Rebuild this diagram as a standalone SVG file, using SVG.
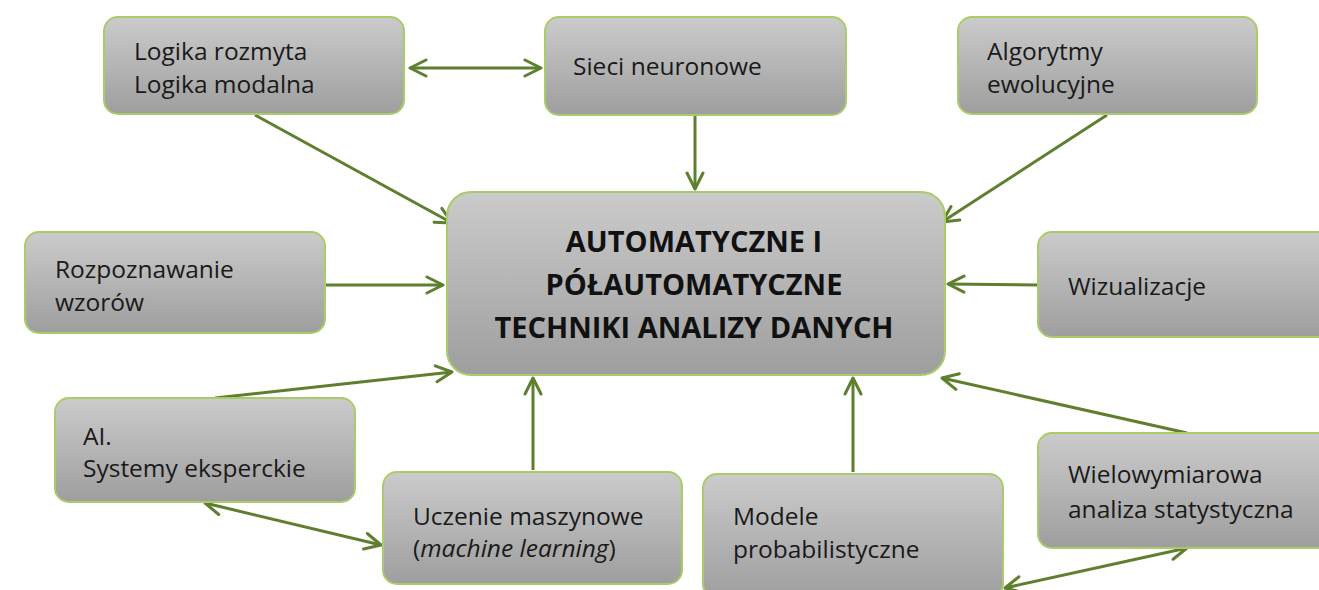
<svg xmlns="http://www.w3.org/2000/svg" width="1319" height="590" viewBox="0 0 1319 590">
<defs>
<linearGradient id="g" x1="0" y1="0" x2="0" y2="1">
<stop offset="0" stop-color="#cbcbcb"/>
<stop offset="1" stop-color="#9e9e9e"/>
</linearGradient>
<marker id="ah" viewBox="0 0 20 20" refX="18" refY="10" markerWidth="20" markerHeight="20" markerUnits="userSpaceOnUse" orient="auto-start-reverse">
<path d="M2,2 L18,10 L2,18" fill="none" stroke="#5e7f2f" stroke-width="3" stroke-linecap="round" stroke-linejoin="round"/>
</marker>
<style>
.box{fill:url(#g);stroke:#a9cc6a;stroke-width:2}
.t{font-family:"Open Sans","Liberation Sans",sans-serif;font-size:24.5px;fill:#1a1a1a}
.c{font-family:"Open Sans","Liberation Sans",sans-serif;font-size:29px;font-weight:bold;fill:#111;text-anchor:middle}
.a{fill:none;stroke:#5e7f2f;stroke-width:3}
</style>
</defs>
<rect width="1319" height="590" fill="#fff"/>
<g id="connectors">
<line class="a" x1="410" y1="68" x2="541" y2="68" marker-start="url(#ah)" marker-end="url(#ah)"/>
<line class="a" x1="255" y1="115" x2="452" y2="223" marker-end="url(#ah)"/>
<line class="a" x1="695" y1="116" x2="695" y2="189" marker-end="url(#ah)"/>
<line class="a" x1="1107" y1="115" x2="942" y2="222" marker-end="url(#ah)"/>
<line class="a" x1="325" y1="285" x2="443" y2="285" marker-end="url(#ah)"/>
<line class="a" x1="1038" y1="285" x2="948" y2="284" marker-end="url(#ah)"/>
<line class="a" x1="215" y1="398" x2="452" y2="372" marker-end="url(#ah)"/>
<line class="a" x1="533" y1="470" x2="533" y2="378" marker-end="url(#ah)"/>
<line class="a" x1="853" y1="472" x2="853" y2="378" marker-end="url(#ah)"/>
<line class="a" x1="1187" y1="433" x2="942" y2="378" marker-end="url(#ah)"/>
<line class="a" x1="205" y1="503" x2="381" y2="545" marker-start="url(#ah)" marker-end="url(#ah)"/>
<line class="a" x1="1005" y1="588" x2="1187" y2="548" marker-start="url(#ah)" marker-end="url(#ah)"/>
</g>
<g id="logika">
<rect class="box" x="104" y="17" width="300" height="97" rx="14"/>
<text class="t" x="134" y="60">Logika rozmyta</text>
<text class="t" x="134" y="93">Logika modalna</text>
</g>
<g id="sieci">
<rect class="box" x="545" y="17" width="301" height="98" rx="14"/>
<text class="t" x="573" y="75">Sieci neuronowe</text>
</g>
<g id="algorytmy">
<rect class="box" x="958" y="17" width="299" height="97" rx="14"/>
<text class="t" x="987" y="60">Algorytmy</text>
<text class="t" x="987" y="93">ewolucyjne</text>
</g>
<g id="central">
<rect class="box" x="447" y="192" width="498" height="183" rx="24"/>
<text class="c" x="694" y="252">AUTOMATYCZNE I</text>
<text class="c" x="694" y="295">PÓŁAUTOMATYCZNE</text>
<text class="c" x="694" y="338">TECHNIKI ANALIZY DANYCH</text>
</g>
<g id="rozpoznawanie">
<rect class="box" x="25" y="232" width="300" height="101" rx="14"/>
<text class="t" x="55" y="278">Rozpoznawanie</text>
<text class="t" x="55" y="311">wzorów</text>
</g>
<g id="wizualizacje">
<rect class="box" x="1038" y="232" width="295" height="105" rx="14"/>
<text class="t" x="1068" y="295">Wizualizacje</text>
</g>
<g id="ai">
<rect class="box" x="55" y="398" width="300" height="104" rx="14"/>
<text class="t" x="83" y="445">AI.</text>
<text class="t" x="83" y="477">Systemy eksperckie</text>
</g>
<g id="uczenie">
<rect class="box" x="383" y="472" width="299" height="112" rx="14"/>
<text class="t" x="413" y="525">Uczenie maszynowe</text>
<text class="t" x="413" y="557">(<tspan font-style="italic">machine learning</tspan>)</text>
</g>
<g id="modele">
<rect class="box" x="703" y="474" width="300" height="124" rx="14"/>
<text class="t" x="733" y="525">Modele</text>
<text class="t" x="733" y="558">probabilistyczne</text>
</g>
<g id="wielowymiarowa">
<rect class="box" x="1038" y="433" width="295" height="115" rx="14"/>
<text class="t" x="1068" y="483">Wielowymiarowa</text>
<text class="t" x="1068" y="518">analiza statystyczna</text>
</g>
</svg>
